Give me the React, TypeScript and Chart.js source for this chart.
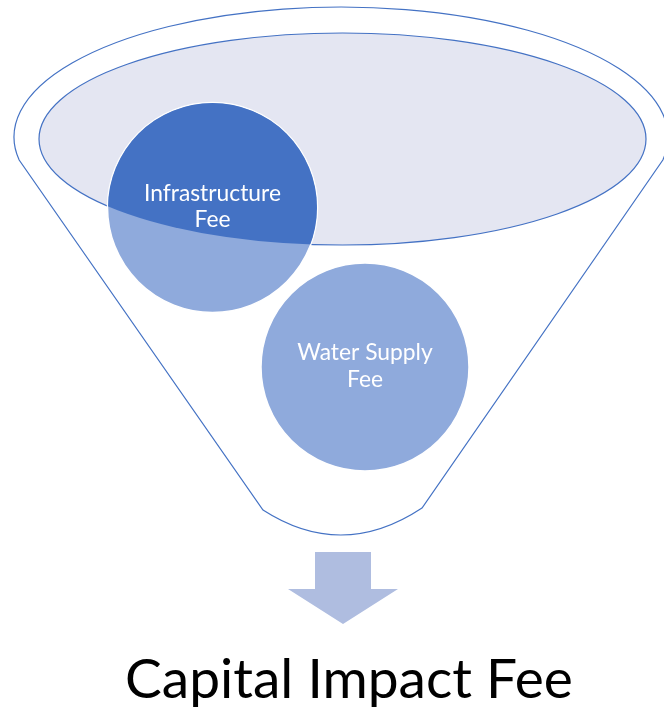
import React, { useEffect, useRef } from "react";
import { Chart, registerables } from "chart.js";

Chart.register(...registerables);

// ---- data ----
const circleLabels: string[][] = [["Infrastructure", "Fee"], ["Water Supply", "Fee"]];
const circleX: number[] = [212.5, 365];
const circleY: number[] = [207.5, 367];
const circleR: number[] = [105, 104];
const titleText = "Capital Impact Fee";

// ---- geometry / styles ----
const W = 664;
const H = 712;
const OUTER = { cx: 341, cy: 137, rx: 327, ry: 130, joinDy: 23 };
const FUNNEL_BOTTOM = { lx: 263, ly: 510, rx: 422, ry: 508, cx: 342, cy: 561 };
const INNER = { cx: 342.5, cy: 139, rx: 303.5, ry: 106 };
const ARROW = { sl: 315, sr: 371, top: 552, headY: 589, hl: 288, hr: 398, tipX: 343, tipY: 624 };
const LINE_COLOR = "#4472C4";
const DARK = "#4472C4";
const LIGHT = "#8FAADC";
const INNER_FILL = "#E4E6F2";
const ARROW_FILL = "#AFBDE0";
const FONT = "Lato, 'Open Sans', sans-serif";

const funnelPlugin = {
  id: "funnel",
  beforeDatasetsDraw(chart: any) {
    const { ctx, scales } = chart;
    const X = (v: number) => scales.x.getPixelForValue(v);
    const Y = (v: number) => scales.y.getPixelForValue(v);
    const DX = (v: number) => Math.abs(X(v) - X(0));
    const DY = (v: number) => Math.abs(Y(v) - Y(0));
    ctx.save();
    // outer funnel outline
    const th = Math.asin(OUTER.joinDy / OUTER.ry);
    ctx.beginPath();
    ctx.ellipse(X(OUTER.cx), Y(OUTER.cy), DX(OUTER.rx), DY(OUTER.ry), 0, Math.PI - th, 2 * Math.PI + th, false);
    ctx.lineTo(X(FUNNEL_BOTTOM.rx), Y(FUNNEL_BOTTOM.ry));
    ctx.quadraticCurveTo(X(FUNNEL_BOTTOM.cx), Y(FUNNEL_BOTTOM.cy), X(FUNNEL_BOTTOM.lx), Y(FUNNEL_BOTTOM.ly));
    ctx.closePath();
    ctx.strokeStyle = LINE_COLOR;
    ctx.lineWidth = 1.2;
    ctx.stroke();
    // inner ellipse
    ctx.beginPath();
    ctx.ellipse(X(INNER.cx), Y(INNER.cy), DX(INNER.rx), DY(INNER.ry), 0, 0, Math.PI * 2);
    ctx.fillStyle = INNER_FILL;
    ctx.fill();
    ctx.strokeStyle = LINE_COLOR;
    ctx.lineWidth = 1.2;
    ctx.stroke();
    // arrow
    ctx.beginPath();
    ctx.moveTo(X(ARROW.sl), Y(ARROW.top));
    ctx.lineTo(X(ARROW.sr), Y(ARROW.top));
    ctx.lineTo(X(ARROW.sr), Y(ARROW.headY));
    ctx.lineTo(X(ARROW.hr), Y(ARROW.headY));
    ctx.lineTo(X(ARROW.tipX), Y(ARROW.tipY));
    ctx.lineTo(X(ARROW.hl), Y(ARROW.headY));
    ctx.lineTo(X(ARROW.sl), Y(ARROW.headY));
    ctx.closePath();
    ctx.fillStyle = ARROW_FILL;
    ctx.fill();
    ctx.restore();
  },
  afterDatasetsDraw(chart: any) {
    const { ctx, scales } = chart;
    const X = (v: number) => scales.x.getPixelForValue(v);
    const Y = (v: number) => scales.y.getPixelForValue(v);
    const DX = (v: number) => Math.abs(X(v) - X(0));
    const DY = (v: number) => Math.abs(Y(v) - Y(0));
    const meta = chart.getDatasetMeta(0);
    ctx.save();
    // dark part of circles inside the inner ellipse
    ctx.beginPath();
    ctx.ellipse(X(INNER.cx), Y(INNER.cy), DX(INNER.rx), DY(INNER.ry), 0, 0, Math.PI * 2);
    ctx.clip();
    meta.data.forEach((el: any, i: number) => {
      ctx.beginPath();
      ctx.arc(el.x, el.y, circleR[i] - 0.5, 0, Math.PI * 2);
      ctx.fillStyle = DARK;
      ctx.fill();
    });
    ctx.restore();

    // labels
    ctx.save();
    ctx.fillStyle = "#ffffff";
    ctx.textAlign = "center";
    ctx.textBaseline = "middle";
    ctx.font = `20px ${FONT}`;
    const lw = ctx.measureText("Infrastructure").width;
    const lsize = 20 * (137 / lw);
    ctx.font = `${lsize}px ${FONT}`;
    meta.data.forEach((el: any, i: number) => {
      const lines = circleLabels[i];
      const lh = 26.5;
      const y0 = el.y - ((lines.length - 1) * lh) / 2 - 1;
      lines.forEach((t, k) => ctx.fillText(t, el.x, y0 + k * lh));
    });
    // title
    ctx.fillStyle = "#000000";
    ctx.textBaseline = "alphabetic";
    let size = 48;
    ctx.font = `${size}px ${FONT}`;
    const w = ctx.measureText(titleText).width;
    size = size * (448 / w);
    ctx.font = `${size}px ${FONT}`;
    ctx.fillText(titleText, X(349), Y(698));
    ctx.restore();
  },
};

export default function App() {
  const ref = useRef<HTMLCanvasElement | null>(null);
  useEffect(() => {
    if (!ref.current) return;
    const chart = new Chart(ref.current, {
      type: "bubble",
      data: {
        datasets: [
          {
            data: circleX.map((x, i) => ({ x, y: circleY[i], r: circleR[i] })),
            backgroundColor: LIGHT,
            borderColor: "#ffffff",
            borderWidth: 1.5,
            clip: false as any,
          },
        ],
      },
      options: {
        responsive: false,
        animation: false,
        maintainAspectRatio: false,
        layout: { padding: 0, autoPadding: false },
        events: [],
        plugins: { legend: { display: false }, tooltip: { enabled: false } },
        scales: {
          x: { type: "linear", min: 0, max: W, display: false },
          y: { type: "linear", min: 0, max: H, reverse: true, display: false },
        },
      },
      plugins: [funnelPlugin],
    });
    return () => chart.destroy();
  }, []);
  return (
    <div style={{ position: "fixed", left: 0, top: 0, width: W, height: H, background: "#fff" }}>
      <canvas ref={ref} width={W} height={H} style={{ width: W, height: H, display: "block" }} />
    </div>
  );
}
